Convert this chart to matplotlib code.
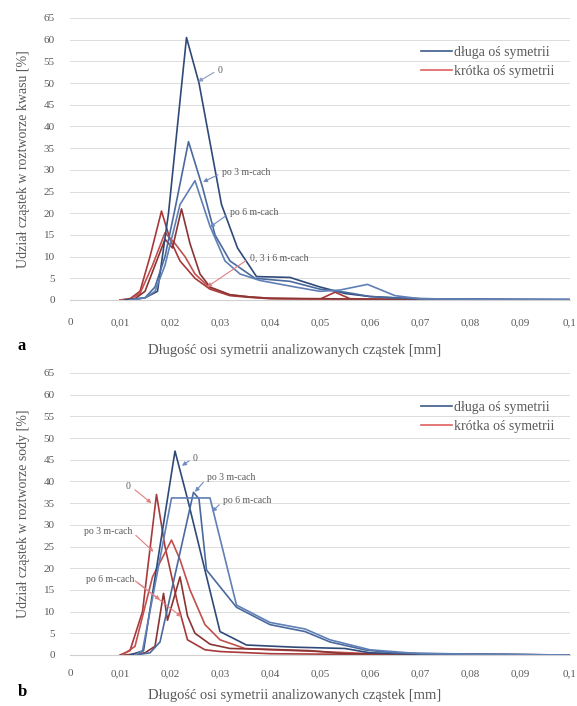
import matplotlib
matplotlib.use('Agg')
import matplotlib.pyplot as plt

plt.rcParams['font.family'] = ['Liberation Serif', 'DejaVu Serif']

# x ticks
xticks = [0, 0.01, 0.02, 0.03, 0.04, 0.05, 0.06, 0.07, 0.08, 0.09, 0.1]
xlabels = ['0', '0,01', '0,02', '0,03', '0,04', '0,05', '0,06', '0,07', '0,08', '0,09', '0,1']
yticks = [0, 5, 10, 15, 20, 25, 30, 35, 40, 45, 50, 55, 60, 65]

# panel a - roztwór kwasu, długa oś symetrii
a_long0_x = [0.011, 0.015, 0.0175, 0.0197, 0.0233, 0.0258, 0.0303, 0.0335, 0.0373, 0.044, 0.05, 0.055, 0.06, 0.065, 0.07, 0.08, 0.09, 0.1]
a_long0_y = [0, 0.5, 2, 20, 60.5, 50, 22, 12, 5.4, 5.2, 3, 1.5, 0.8, 0.5, 0.3, 0.2, 0.1, 0.1]
a_long3_x = [0.012, 0.015, 0.017, 0.019, 0.021, 0.0237, 0.0265, 0.029, 0.032, 0.037, 0.044, 0.05, 0.055, 0.06, 0.065, 0.07, 0.08, 0.1]
a_long3_y = [0, 0.5, 3, 10, 21, 36.5, 26, 15, 9, 5, 4.3, 2.5, 1.8, 0.8, 0.5, 0.3, 0.2, 0.1]
a_long6_x = [0.012, 0.015, 0.017, 0.019, 0.022, 0.025, 0.028, 0.031, 0.034, 0.038, 0.045, 0.05, 0.054, 0.0595, 0.065, 0.07, 0.08, 0.1]
a_long6_y = [0, 0.5, 2, 8, 22, 27.5, 17, 9, 6, 4.5, 3, 2, 2.3, 3.6, 1, 0.3, 0.2, 0.1]

# panel a - krótka oś symetrii
a_short0_x = [0.010, 0.012, 0.014, 0.016, 0.0183, 0.020, 0.022, 0.025, 0.028, 0.032, 0.036, 0.04, 0.05, 0.053, 0.056, 0.06, 0.07, 0.1]
a_short0_y = [0, 0.3, 2, 10, 20.5, 14, 9, 5, 2.5, 1, 0.6, 0.3, 0.2, 1.8, 0.3, 0.2, 0.1, 0]
a_short3_x = [0.010, 0.012, 0.014, 0.0165, 0.019, 0.021, 0.023, 0.025, 0.028, 0.032, 0.036, 0.04, 0.05, 0.06, 0.07, 0.1]
a_short3_y = [0, 0.2, 1.5, 8, 15.5, 13, 10, 6, 2.8, 1.2, 0.7, 0.4, 0.2, 0.1, 0.1, 0]
a_short6_x = [0.011, 0.013, 0.015, 0.017, 0.019, 0.0205, 0.0223, 0.024, 0.026, 0.028, 0.032, 0.036, 0.04, 0.05, 0.06, 0.07, 0.1]
a_short6_y = [0, 0.3, 2, 8, 14, 12, 21, 13, 6, 3, 1.2, 0.7, 0.4, 0.3, 0.2, 0.1, 0]

# panel b - roztwór sody, długa oś symetrii
b_long0_x = [0.012, 0.0147, 0.021, 0.0235, 0.030, 0.0353, 0.045, 0.055, 0.06, 0.07, 0.1]
b_long0_y = [0, 1, 47, 36, 5.4, 2.3, 1.8, 1.5, 0.5, 0.2, 0]
b_long3_x = [0.013, 0.016, 0.018, 0.0247, 0.0258, 0.0273, 0.0333, 0.04, 0.047, 0.052, 0.0593, 0.065, 0.08, 0.1]
b_long3_y = [0, 0.5, 3, 37.5, 36, 19.6, 11, 7, 5.4, 3, 1.1, 0.5, 0.2, 0]
b_long6_x = [0.013, 0.0145, 0.0203, 0.028, 0.0333, 0.04, 0.047, 0.052, 0.06, 0.07, 0.1]
b_long6_y = [0, 1, 36.2, 36.2, 11.5, 7.5, 6, 3.5, 1.2, 0.3, 0]

# panel b - krótka oś symetrii
b_short0_x = [0.010, 0.012, 0.0145, 0.0173, 0.019, 0.0215, 0.0235, 0.027, 0.03, 0.04, 0.05, 0.1]
b_short0_y = [0, 1, 10, 37, 25, 12, 3.5, 1.2, 0.8, 0.3, 0.2, 0]
b_short3_x = [0.0105, 0.013, 0.0165, 0.0203, 0.022, 0.024, 0.027, 0.03, 0.035, 0.04, 0.05, 0.06, 0.1]
b_short3_y = [0, 2, 18, 26.5, 22, 15, 7, 3.5, 1.5, 1.2, 0.8, 0.3, 0]
b_short6_x = [0.011, 0.015, 0.017, 0.0187, 0.0195, 0.022, 0.0235, 0.025, 0.028, 0.032, 0.04, 0.048, 0.055, 0.1]
b_short6_y = [0, 0.5, 2, 14.2, 8, 18, 9, 5, 2.5, 1.5, 1.3, 1.0, 0.3, 0]

blues = ['#2f4a78', '#4a6a9e', '#5f7fb5']
reds = ['#a8383a', '#c0504d', '#8a3434']
grey = '#595959'

fig = plt.figure(figsize=(5.77, 7.06), dpi=100)
ax_a = fig.add_axes([70/577, 1-300/706, 500/577, 282/706])
ax_b = fig.add_axes([70/577, 1-655/706, 500/577, 282/706])


def style(ax, ylabel, xlabel_y, pad):
    ax.set_xlim(0, 0.1)
    ax.set_ylim(0, 65)
    ax.set_xticks(xticks)
    ax.set_xticklabels(xlabels)
    ax.set_yticks(yticks)
    ax.tick_params(axis='both', length=0, labelsize=8, colors=grey)
    ax.tick_params(axis='x', pad=pad)
    ax.tick_params(axis='y', pad=11)
    ax.grid(axis='y', color='#dcdcdc', lw=0.7)
    ax.set_axisbelow(True)
    for s in ['top', 'right', 'left']:
        ax.spines[s].set_visible(False)
    ax.spines['bottom'].set_color('#d0d0d0')
    ax.set_ylabel(ylabel, fontsize=10, color=grey)
    ax.yaxis.set_label_coords(-0.08, 0.5)
    ax.set_xlabel('Długość osi symetrii analizowanych cząstek [mm]', fontsize=10.5, color=grey)
    ax.xaxis.set_label_coords(0.45, xlabel_y)


def arrow(ax, text, xy, xytext, color, ha='left'):
    ax.annotate(text, xy=xy, xytext=xytext, fontsize=7, color=grey, ha=ha, va='center',
                arrowprops=dict(arrowstyle='-|>', color=color, lw=0.8, mutation_scale=6,
                                shrinkA=1, shrinkB=0,
                                relpos=(0, 0.5) if ha == 'left' else (1, 0.5)))


# panel a
for xs, ys, c in [(a_short0_x, a_short0_y, reds[0]), (a_short3_x, a_short3_y, reds[1]),
                  (a_short6_x, a_short6_y, reds[2])]:
    ax_a.plot(xs, ys, color=c, lw=1.2)
for xs, ys, c in [(a_long0_x, a_long0_y, blues[0]), (a_long3_x, a_long3_y, blues[1]),
                  (a_long6_x, a_long6_y, blues[2])]:
    ax_a.plot(xs, ys, color=c, lw=1.2)
style(ax_a, 'Udział cząstek w roztworze kwasu [%]', -0.155, 13)
arrow(ax_a, '0', (0.0256, 50.3), (0.0296, 53.0), '#8a9cc0')
arrow(ax_a, 'po 3 m-cach', (0.0266, 27.2), (0.0304, 29.3), '#6f8bc0')
arrow(ax_a, 'po 6 m-cach', (0.028, 16.8), (0.032, 20.1), '#6f8bc0')
arrow(ax_a, '0, 3 i 6 m-cach', (0.0274, 3.0), (0.036, 9.7), '#e08080')

# panel b
for xs, ys, c in [(b_short0_x, b_short0_y, reds[0]), (b_short3_x, b_short3_y, reds[1]),
                  (b_short6_x, b_short6_y, reds[2])]:
    ax_b.plot(xs, ys, color=c, lw=1.2)
for xs, ys, c in [(b_long0_x, b_long0_y, blues[0]), (b_long3_x, b_long3_y, blues[1]),
                  (b_long6_x, b_long6_y, blues[2])]:
    ax_b.plot(xs, ys, color=c, lw=1.2)
style(ax_b, 'Udział cząstek w roztworze sody [%]', -0.12, 10)
arrow(ax_b, '0', (0.0224, 43.6), (0.0246, 45.4), '#6f8bc0')
arrow(ax_b, 'po 3 m-cach', (0.025, 37.6), (0.0274, 40.8), '#6f8bc0')
arrow(ax_b, 'po 6 m-cach', (0.0284, 33.0), (0.0306, 35.5), '#6f8bc0')
arrow(ax_b, '0', (0.0163, 35.0), (0.0122, 38.8), '#e08080', ha='right')
arrow(ax_b, 'po 3 m-cach', (0.0167, 23.8), (0.0124, 28.4), '#e08080', ha='right')
arrow(ax_b, 'po 6 m-cach', (0.018, 12.7), (0.0128, 17.3), '#e08080', ha='right')
arrow(ax_b, '', (0.0223, 8.8), (0.0128, 17.3), '#e08080', ha='right')

# legends
for ax, ytop in [(ax_a, 46), (ax_b, 401)]:
    h1, = ax.plot([], [], color='#3b5a8a', lw=1.2)
    h2, = ax.plot([], [], color='#e06060', lw=1.2)
    leg = fig.legend([h1, h2], ['długa oś symetrii', 'krótka oś symetrii'],
                     loc='upper left', bbox_to_anchor=(421/577, 1-ytop/706),
                     frameon=False, fontsize=10, handlelength=2.2, handletextpad=0.2,
                     labelspacing=0.4, borderpad=0, borderaxespad=0)
    for t in leg.get_texts():
        t.set_color(grey)

fig.text(18/577, 1-346/706, 'a', fontsize=12, fontweight='bold', va='center', ha='left')
fig.text(18/577, 1-692/706, 'b', fontsize=12, fontweight='bold', va='center', ha='left')

fig.savefig('out.png', dpi=100)
